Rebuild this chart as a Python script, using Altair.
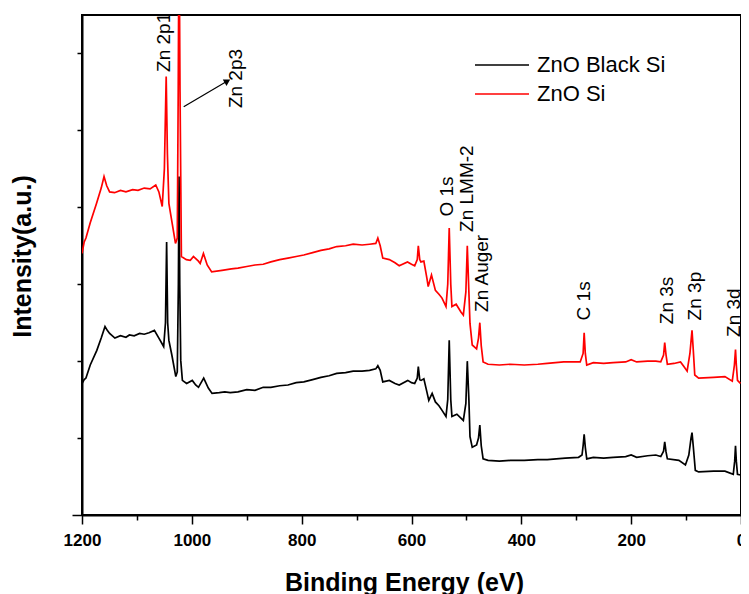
import altair as alt
import pandas as pd

# ---- data (binding energy in eV, intensity in arbitrary units) ----
E_black = [1200, 1196, 1192.8, 1185, 1173, 1165, 1158.1, 1154, 1149.7, 1140.1, 1130, 1120, 1113.7, 1105, 1095,
           1086.7, 1078, 1068.2, 1060, 1051.3, 1048, 1045.9, 1044, 1041.8, 1036.4, 1029.2, 1026.5, 1024.5, 1023.3,
           1022, 1020.2, 1017.2, 1009.5, 999.2, 993, 987.9, 978.4, 970, 963.2, 950, 940, 930, 916, 900, 885, 870,
           856.1, 840, 825, 810, 796.1, 780, 765, 750, 736.2, 720, 706.2, 690, 676.4, 665, 661.3, 657, 652.3, 640.4,
           630, 622.4, 606.8, 600, 594.2, 589.5, 587.6, 585, 582.5, 577.5, 572, 568.5, 562.4, 556.5, 550, 544.4,
           537.2, 534, 531.3, 528.5, 526.4, 517.4, 510, 505.6, 501, 498.4, 495.5, 493.5, 489.4, 481.5, 478, 475.6,
           473, 469.6, 460.6, 440, 420, 394.6, 370, 352.8, 320, 295.8, 289.5, 287.5, 285.6, 283.5, 280.9, 268.9,
           250, 232.9, 210, 200, 190, 170, 155.1, 146.1, 141, 138.9, 136.5, 134.1, 113.1, 101.2, 95, 91, 89.2, 87,
           83.2, 77.1, 50, 29.3, 14.1, 11.5, 10, 8.5, 6.4, 1]
I_black = [121, 126, 128, 145, 164, 180, 195, 190, 186, 180, 183, 181, 184, 183, 186,
           185, 187, 190, 180, 169, 200, 305, 200, 177, 158, 130, 136, 250, 390,
           250, 151, 125, 121, 125, 119, 116, 128, 115, 108, 109, 110, 109, 110, 113, 112, 116,
           116, 118, 119, 122, 123, 126, 129, 131, 134, 135, 137, 137, 138, 140, 144, 138, 123, 125,
           121, 119, 125, 122, 121, 128, 143, 126, 125, 127, 110, 99, 108, 97, 92, 86,
           78, 100, 177, 100, 78, 81, 76, 73, 95, 150, 100, 52, 38, 41, 50, 67,
           40, 23, 21, 20, 21, 21, 22, 22, 24, 25, 28, 40, 55, 38, 23, 25,
           24, 25, 26, 28, 25, 27, 28, 26, 33, 45, 32, 23, 21, 15, 28, 50, 57, 40,
           8, 6, 7, 7, 3, 20, 40, 20, 3, 2]

E_red = [1200, 1196, 1192.8, 1185, 1173.6, 1165, 1159.9, 1155, 1149.7, 1140.7, 1130, 1120, 1107.8, 1098, 1086.7,
         1076, 1065.7, 1060, 1053.9, 1050, 1046.7, 1044.5, 1041.8, 1036, 1029.8, 1026.5, 1024.8, 1023.3, 1021.5,
         1019, 1010, 1002.8, 997, 993.8, 988, 984.8, 978.9, 972, 963.9, 945, 928, 916, 900, 885, 870, 856.1, 840,
         825, 810, 796.1, 780, 765, 750, 736.2, 720, 706.2, 690, 676.4, 665, 661.3, 657, 652.3, 640.4, 630, 622.4,
         607.3, 600, 594.2, 589.5, 587.6, 585, 582.9, 577.5, 572, 569.6, 563.6, 556.5, 550, 544.4, 537.2, 534,
         531.3, 528.5, 526.4, 518.7, 510, 505.6, 501, 498.4, 495.5, 493.5, 489.4, 481.5, 478, 475.6, 473, 469.6,
         460.6, 440, 420, 394.6, 370, 352.8, 322.8, 292.8, 287.5, 285.6, 283.5, 280.9, 268.9, 250, 232.9, 210,
         200, 190, 170, 155.1, 146.1, 141, 138.9, 136.5, 134.1, 122, 110.1, 104, 98.1, 93, 89.2, 86.5, 84.2, 77.1,
         50, 29.3, 15.9, 12, 10, 8.5, 6.4, 1]
I_red = [290, 305, 310, 330, 355, 375, 390, 378, 370, 369, 372, 370, 373, 372, 375,
         374, 379, 370, 351, 400, 520, 420, 355, 330, 303, 310, 500, 720, 500,
         286, 282, 281, 286, 284, 280, 277, 290, 275, 266, 268, 270, 271, 273, 275, 276, 279, 282,
         284, 286, 288, 291, 294, 296, 299, 300, 302, 301, 302, 303, 310, 300, 284, 282, 278, 274,
         279, 276, 274, 282, 300, 282, 279, 280, 258, 247, 262, 242, 237, 232, 221, 250,
         323, 250, 221, 224, 214, 210, 240, 300, 240, 199, 171, 166, 180, 200, 170, 149,
         146, 145, 146, 145, 146, 147, 149, 149, 160, 187, 160, 145, 148, 147, 148, 149,
         152, 149, 150, 150, 149, 158, 174, 158, 146, 147, 149, 143, 137, 160, 190, 160, 132, 128,
         129, 130, 124, 145, 165, 145, 125, 121]

series_names = ["ZnO Black Si", "ZnO Si"]
series_colors = ["#000000", "#ff0000"]

peak_labels = ["Zn 2p1", "Zn 2p3", "O 1s", "Zn LMM-2", "Zn Auger", "C 1s", "Zn 3s", "Zn 3p", "Zn 3d"]
peak_label_E = [1039, 908, 524, 488, 460, 275.5, 123, 73, 2]
peak_label_I = [526, 479, 338, 318, 214, 203, 198, 203, 181.5]

arrow_E = [1014.8]
arrow_I = [480.7]
arrow_E2 = [935.2]
arrow_I2 = [514.1]

x_ticks = list(range(0, 1201, 100))
y_ticks = list(range(-50, 601, 50))

# ---- tables ----
df = pd.DataFrame({
    "E": E_black + E_red,
    "I": I_black + I_red,
    "series": [series_names[0]] * len(E_black) + [series_names[1]] * len(E_red),
})
lab_df = pd.DataFrame({"E": peak_label_E, "I": peak_label_I, "label": peak_labels})
arrow_df = pd.DataFrame({"E": arrow_E, "I": arrow_I, "E2": arrow_E2, "I2": arrow_I2})
head_df = pd.DataFrame({"E": arrow_E2, "I": arrow_I2})

FONT = "Liberation Sans"

x_axis = alt.Axis(
    values=x_ticks,
    format="d",
    labelExpr="datum.value % 200 === 0 ? datum.label : ''",
    tickSize=alt.condition("datum.value % 200 === 0", alt.value(9), alt.value(5)),
    tickWidth=1.5,
    domainWidth=2,
    grid=False,
    labelFont=FONT,
    labelFontWeight="bold",
    labelFontSize=17,
    labelPadding=8,
    labelFlush=False,
    labelOverlap=False,
    title="Binding Energy (eV)",
    titleFont=FONT,
    titleFontWeight="bold",
    titleFontSize=25,
    titleX=322,
    titleY=75,
    titleAlign="center",
    titleBaseline="alphabetic",
)
y_axis = alt.Axis(
    values=y_ticks,
    labels=False,
    tickSize=alt.condition("datum.value % 100 === 0 || datum.value === -50", alt.value(10), alt.value(5)),
    tickWidth=1.5,
    domainWidth=2,
    grid=False,
    title="Intensity(a.u.)",
    titleFont=FONT,
    titleFontWeight="bold",
    titleFontSize=25,
    titleX=-52,
    titleY=241,
    titleAngle=270,
    titleAlign="center",
    titleBaseline="alphabetic",
)

x_enc = alt.X("E:Q", scale=alt.Scale(domain=[0, 1200], reverse=True, nice=False, zero=False), axis=x_axis)
y_enc = alt.Y("I:Q", scale=alt.Scale(domain=[-50, 600], nice=False, zero=False), axis=y_axis)

lines = alt.Chart(df).mark_line(strokeWidth=1.7, clip=True).encode(
    x=x_enc,
    y=y_enc,
    color=alt.Color(
        "series:N",
        scale=alt.Scale(domain=series_names, range=series_colors),
        legend=alt.Legend(
            orient="none",
            legendX=409,
            legendY=39,
            title=None,
            symbolType="M-3,0H3",
            symbolSize=324,
            symbolStrokeWidth=1.5,
            labelFont=FONT,
            labelFontSize=22,
            labelOffset=24,
            rowPadding=7,
            padding=0,
        ),
    ),
    order=alt.Order("E:Q"),
)

labels = alt.Chart(lab_df).mark_text(
    angle=270, align="left", baseline="alphabetic", font=FONT, fontSize=19, color="black", clip=True
).encode(x="E:Q", y="I:Q", text="label:N")

arrow = alt.Chart(arrow_df).mark_rule(strokeWidth=1.2, color="black").encode(
    x="E:Q", y="I:Q", x2="E2:Q", y2="I2:Q"
)
head = alt.Chart(head_df).mark_point(
    shape="triangle-right", angle=330, filled=True, size=55, color="black", opacity=1
).encode(x="E:Q", y="I:Q")

chart = alt.layer(lines, labels, arrow, head).properties(
    width=659,
    height=500,
    autosize=alt.AutoSizeParams(type="none"),
    padding={"left": 74, "top": 7, "right": 0, "bottom": 79},
).configure_view(
    stroke="black", strokeWidth=2
).configure_axis(
    domainColor="black", tickColor="black", labelColor="black", titleColor="black"
)

chart.save("out.html", embed_options={"renderer": "svg", "actions": False})
